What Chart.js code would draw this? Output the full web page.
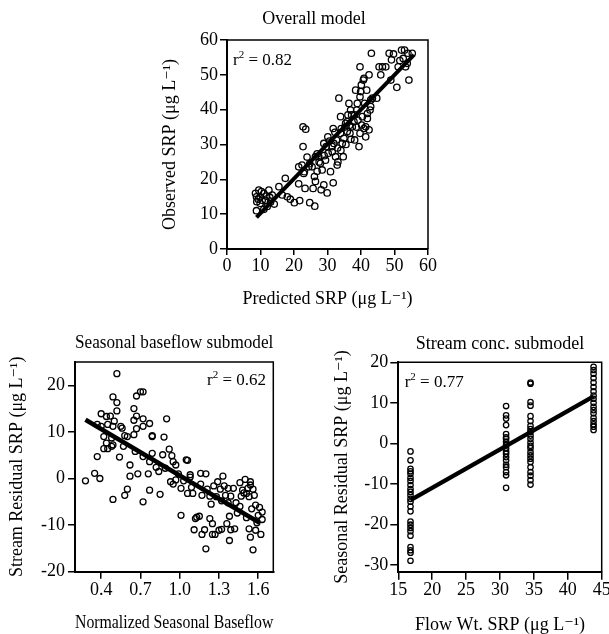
<!DOCTYPE html>
<html lang="en">
<head>
  <meta charset="UTF-8">
  <title>SRP model fits</title>
  <script src="https://cdn.jsdelivr.net/npm/chart.js"></script>
  <style>
    body { margin: 0; background: #fff; }
    #wrap { position: relative; width: 609px; height: 634px; overflow: hidden; }
    canvas { position: absolute; }
    #overall { left: 159px; top: 0px; }
    #baseflow { left: 0px; top: 320px; }
    #stream { left: 330px; top: 320px; }
  </style>
</head>
<body>
  <div id="wrap">
    <canvas id="overall" width="310" height="320"></canvas>
    <canvas id="baseflow" width="340" height="314"></canvas>
    <canvas id="stream" width="300" height="316"></canvas>
  </div>

  <script>
    // --- Overall model: predicted vs observed SRP ---
    const overallPredicted = [8.5, 9.5, 8.8, 9.9, 11.0, 10.5, 8.9, 9.9, 11.5, 12.5, 13.5, 12.0, 8.8, 11.0, 14.1,
      15.5, 17.4, 16.5, 18.0, 18.9, 20.1, 21.7, 21.4, 21.4, 22.4, 22.7, 22.7, 23.5, 23.1, 23.3,
      23.9, 24.7, 25.7, 26.1, 26.4, 24.7, 26.2, 26.9, 26.9, 27.9, 28.4, 28.1, 28.9, 29.4, 29.6,
      30.1, 29.9, 30.9, 31.4, 31.7, 31.7, 31.9, 32.4, 32.9, 33.1, 33.4, 33.9, 34.4, 34.7, 34.9,
      35.4, 35.9, 36.1, 36.4, 36.7, 36.9, 37.4, 37.9, 38.1, 38.4, 38.7, 39.1, 39.4, 39.7, 39.7,
      39.9, 40.1, 40.4, 40.7, 40.9, 41.1, 41.4, 41.4, 41.7, 41.9, 42.4, 42.7, 42.9, 43.1, 43.4,
      44.7, 45.4, 45.9, 46.4, 47.4, 48.4, 48.9, 49.1, 49.7, 50.7, 51.1, 51.6, 52.1, 52.6, 53.0,
      53.3, 54.0, 54.3, 55.3, 53.8, 35.9, 37.2, 38.1, 38.9, 39.7, 40.2, 40.9, 41.9, 42.4, 42.9,
      33.9, 34.1, 32.7, 31.4, 28.9, 27.4, 26.4, 25.4, 24.4, 22.9, 9.3, 10.3, 12.8, 11.8, 13.0,
      30.6, 32.2, 35.2, 36.6, 38.6, 37.0, 35.5, 34.0, 33.0, 30.2, 29.0, 27.5];
    const overallObserved = [16.0, 16.9, 15.0, 15.0, 16.0, 14.0, 13.6, 13.1, 14.0, 16.9, 15.5, 12.2, 11.0, 11.4, 12.9,
      17.9, 20.3, 15.5, 15.0, 14.3, 13.3, 13.9, 18.7, 23.6, 24.1, 29.4, 35.1, 34.4, 22.2, 17.4,
      26.4, 24.5, 17.4, 20.8, 19.4, 13.3, 12.3, 27.3, 22.3, 24.6, 22.7, 17.0, 18.4, 25.5, 29.4,
      32.2, 16.1, 22.2, 27.9, 19.0, 34.6, 30.3, 26.5, 24.1, 25.0, 43.3, 38.0, 30.3, 26.5, 31.8,
      36.1, 33.7, 38.5, 41.8, 33.2, 39.9, 35.1, 36.6, 31.3, 45.6, 39.9, 37.0, 29.4, 33.2, 52.3,
      45.2, 47.1, 38.0, 48.5, 49.0, 41.8, 32.2, 35.1, 45.6, 38.9, 50.0, 39.9, 42.8, 56.2, 43.3,
      43.3, 52.3, 50.0, 52.3, 52.3, 56.2, 48.5, 54.3, 56.0, 46.4, 52.3, 54.1, 57.1, 54.7, 57.1,
      52.3, 56.2, 48.5, 56.2, 53.3, 36.6, 38.5, 38.5, 41.8, 43.7, 35.6, 34.6, 37.5, 34.2, 40.9,
      33.2, 34.6, 31.3, 29.4, 30.3, 26.5, 26.5, 23.6, 23.6, 21.7, 14.3, 16.5, 14.8, 15.2, 13.5,
      31.0, 33.5, 35.0, 35.5, 35.0, 31.5, 30.0, 28.3, 29.0, 27.5, 26.8, 25.0];
    const overallFitX = [8.8, 55.8];
    const overallFitY = [9.1, 55.7];
    const overallTicks = [0, 10, 20, 30, 40, 50, 60];
    const overallR2 = "0.82";

    // --- Seasonal baseflow submodel ---
    const baseflowX = [0.28, 0.52, 0.49, 0.52, 0.52, 0.40, 0.44, 0.47, 0.37, 0.40, 0.45, 0.49, 0.50, 0.55, 0.56,
      0.42, 0.44, 0.48, 0.49, 0.42, 0.45, 0.48, 0.37, 0.35, 0.39, 0.49, 0.54, 0.57, 0.58, 0.60,
      0.58, 0.60, 0.62, 0.62, 0.65, 0.67, 0.70, 0.72, 0.67, 0.65, 0.67, 0.65, 0.72, 0.72, 0.66,
      0.68, 0.72, 0.72, 0.76, 0.77, 0.77, 0.77, 0.79, 0.79, 0.79, 0.82, 0.84, 0.85, 0.88, 0.87,
      0.90, 0.89, 0.92, 0.94, 0.93, 0.95, 0.95, 0.97, 0.97, 0.99, 1.01, 1.01, 1.03, 1.05, 1.06,
      1.06, 1.08, 1.08, 1.09, 1.10, 1.11, 1.12, 1.13, 1.15, 1.16, 1.16, 1.17, 1.17, 1.19, 1.20,
      1.20, 1.21, 1.23, 1.23, 1.24, 1.25, 1.25, 1.26, 1.27, 1.28, 1.29, 1.30, 1.31, 1.32, 1.32,
      1.33, 1.34, 1.35, 1.36, 1.37, 1.37, 1.38, 1.38, 1.39, 1.39, 1.41, 1.42, 1.43, 1.44, 1.46,
      1.46, 1.47, 1.48, 1.49, 1.50, 1.51, 1.51, 1.52, 1.53, 1.53, 1.54, 1.54, 1.54, 1.55, 1.56,
      1.56, 1.57, 1.58, 1.58, 1.59, 1.60, 1.61, 1.62, 1.63, 1.63];
    const baseflowResid = [-0.5, 22.5, 17.5, 16.3, 14.5, 13.9, 13.3, 13.4, 11.6, 11.2, 11.6, 11.2, 12.3, 11.2, 10.8,
      9.0, 7.6, 8.7, 7.2, 6.4, 6.4, 6.9, 4.7, 1.1, 0.0, -4.5, 4.6, 6.9, 9.2, 9.0,
      -3.6, -2.3, 2.9, 0.5, 15.0, 17.7, 18.6, 18.6, 13.4, 12.5, 10.7, 9.4, 12.8, 11.2, 5.8,
      1.0, 4.7, -5.0, 1.0, 3.6, -2.5, 11.8, 9.0, 9.2, 5.4, 2.4, 1.5, -3.4, 8.9, 5.1,
      12.8, 2.2, 6.3, 4.9, -0.7, 3.6, -1.2, 2.9, -0.3, 1.0, -2.1, -7.9, -0.5, 4.0, 3.9,
      -3.2, 0.8, 0.3, -1.9, -3.2, -11.0, -8.6, -8.3, -8.1, 1.1, -1.2, -3.6, -12.0, -11.0, -15.1,
      1.0, -2.3, -3.8, -8.6, -5.5, -12.0, -9.7, -1.6, -12.0, -3.9, -0.7, -11.1, -2.3, -4.8, -10.9,
      0.5, -1.6, -3.6, -9.7, -5.2, -2.1, -13.3, -8.1, -11.0, -3.8, -2.1, -10.8, -5.2, -7.4, -0.9,
      -6.0, -3.8, -2.5, -3.1, -0.2, -8.4, -3.2, -2.1, -3.9, -10.8, -0.7, -1.4, -12.6, -6.5, -2.3,
      -15.3, -3.6, -5.7, -11.1, -9.5, -7.9, -6.2, -12.0, -7.2, -8.8];
    const baseflowFitX = [0.28, 1.61];
    const baseflowFitY = [12.6, -9.5];
    const baseflowXTicks = [0.4, 0.7, 1.0, 1.3, 1.6];
    const baseflowYTicks = [-20, -10, 0, 10, 20];
    const baseflowR2 = "0.62";

    // --- Stream concentration submodel (four flow-weighted SRP levels) ---
    const streamFlowWt = [
      16.8, 16.8, 16.8, 16.8, 16.8, 16.8, 16.8, 16.8, 16.8, 16.8, 16.8, 16.8,
      16.8, 16.8, 16.8, 16.8, 16.8, 16.8, 16.8, 16.8, 16.8, 16.8, 16.8, 16.8,
      30.9, 30.9, 30.9, 30.9, 30.9, 30.9, 30.9, 30.9, 30.9, 30.9, 30.9, 30.9,
      30.9, 30.9, 30.9, 30.9, 30.9, 30.9, 30.9,
      34.5, 34.5, 34.5, 34.5, 34.5, 34.5, 34.5, 34.5, 34.5, 34.5, 34.5, 34.5,
      34.5, 34.5, 34.5, 34.5, 34.5, 34.5, 34.5, 34.5, 34.5, 34.5, 34.5,
      43.8, 43.8, 43.8, 43.8, 43.8, 43.8, 43.8, 43.8, 43.8, 43.8, 43.8, 43.8,
      43.8, 43.8, 43.8, 43.8, 43.8, 43.8];
    const streamResid = [
      -2.0, -4.2, -6.3, -6.9, -7.5, -8.5, -9.3, -10.3, -11.3, -12.0, -12.8, -13.7,
      -14.4, -15.6, -16.8, -19.3, -20.1, -20.9, -21.7, -22.8, -25.6, -26.4, -27.0, -29.0,
      9.2, 6.9, 6.1, 4.5, 2.3, 1.5, 1.1, 0.4, -0.4, -1.2, -2.0, -2.6,
      -3.4, -4.2, -5.3, -5.9, -7.1, -7.9, -11.0,
      15.0, 14.7, 10.2, 9.3, 6.7, 5.5, 4.3, 3.5, 2.8, 1.9, 1.1, 0.2,
      -0.6, -1.2, -2.2, -3.0, -3.8, -4.6, -5.9, -7.1, -8.0, -9.1, -10.2,
      18.9, 18.1, 17.2, 16.1, 15.0, 13.9, 12.8, 11.8, 11.0, 10.0, 9.0, 8.2,
      7.4, 6.3, 5.5, 4.7, 4.1, 3.3];
    const streamFitX = [16.8, 43.8];
    const streamFitY = [-14.0, 11.6];
    const streamXTicks = [15, 20, 25, 30, 35, 40, 45];
    const streamYTicks = [-30, -20, -10, 0, 10, 20];
    const streamR2 = "0.77";

    const FONT = "'Liberation Serif', 'DejaVu Serif', 'Times New Roman', serif";
    Chart.defaults.font.family = FONT;
    Chart.defaults.font.size = 18;
    Chart.defaults.color = "#000";

    const toPoints = (xs, ys) => xs.map((x, i) => ({ x: x, y: ys[i] }));
    const fixedTicks = arr => scale => { scale.ticks = arr.map(v => ({ value: v })); };

    // frame on top/right edges plus the r² note inside the plot
    const framePlugin = {
      id: "frame",
      afterDatasetsDraw(chart, args, opts) {
        const { ctx, chartArea: a } = chart;
        ctx.save();
        ctx.strokeStyle = "#000";
        ctx.lineWidth = 1.5;
        ctx.beginPath();
        ctx.moveTo(a.left, a.top);
        ctx.lineTo(a.right, a.top);
        ctx.lineTo(a.right, a.bottom);
        ctx.stroke();

        const rest = " = " + opts.r2;
        ctx.textBaseline = "alphabetic";
        ctx.textAlign = "left";
        ctx.font = "17px " + FONT;
        const wR = ctx.measureText("r").width;
        const wRest = ctx.measureText(rest).width;
        ctx.font = "11px " + FONT;
        const w2 = ctx.measureText("2").width;
        let x0 = opts.align === "right" ? a.right - opts.dx - (wR + w2 + wRest) : a.left + opts.dx;
        const y0 = a.top + opts.dy;
        ctx.fillStyle = "#000";
        ctx.font = "17px " + FONT;
        ctx.fillText("r", x0, y0);
        ctx.font = "11px " + FONT;
        ctx.fillText("2", x0 + wR, y0 - 7);
        ctx.font = "17px " + FONT;
        ctx.fillText(rest, x0 + wR + w2, y0);
        ctx.restore();
      }
    };

    function scatterChart(id, p) {
      const scales = {
        x: {
          type: "linear",
          min: p.xMin,
          max: p.xMax,
          afterBuildTicks: fixedTicks(p.xTicks),
          afterFit: s => { s.height = p.xHeight; },
          border: { display: true, color: "#000", width: 2 },
          grid: { drawOnChartArea: false, drawTicks: true, tickLength: p.xTick, color: "#000", lineWidth: 1.5 },
          ticks: { padding: p.xPad, autoSkip: false, maxRotation: 0, callback: p.xFmt },
          title: { display: true, text: p.xTitle, padding: { top: 0, bottom: p.xTitlePad } }
        },
        y: {
          type: "linear",
          min: p.yMin,
          max: p.yMax,
          afterBuildTicks: fixedTicks(p.yTicks),
          afterFit: s => { s.width = p.yWidth; },
          border: { display: true, color: "#000", width: 2 },
          grid: { drawOnChartArea: false, drawTicks: true, tickLength: p.yTick, color: "#000", lineWidth: 1.5 },
          ticks: { padding: p.yPad, autoSkip: false },
          title: { display: true, text: p.yTitle, padding: { top: p.yTitlePad, bottom: 0 } }
        }
      };
      // empty right-hand axis used as a spacer so the full-width title sits where it should
      if (p.rightSpace) {
        scales.spacer = {
          type: "linear",
          position: "right",
          afterFit: s => { s.width = p.rightSpace; },
          border: { display: false },
          grid: { display: false, drawTicks: false },
          ticks: { display: false }
        };
      }
      return new Chart(document.getElementById(id), {
        type: "scatter",
        data: {
          datasets: [
            {
              data: toPoints(p.fitX, p.fitY),
              showLine: true,
              borderColor: "#000",
              borderWidth: p.lineWidth,
              pointRadius: 0,
              order: 0
            },
            {
              data: toPoints(p.xs, p.ys),
              pointStyle: "circle",
              pointRadius: p.radius,
              borderWidth: 1.3,
              borderColor: "#000",
              backgroundColor: "rgba(255,255,255,0)",
              order: 1
            }
          ]
        },
        options: {
          responsive: false,
          devicePixelRatio: 1,
          animation: false,
          layout: { padding: { left: 0, right: p.padRight, top: 0, bottom: 0 } },
          plugins: {
            legend: { display: false },
            tooltip: { enabled: false },
            title: {
              display: true,
              text: p.title,
              fullSize: p.titleFull,
              color: "#000",
              font: { size: 18, weight: "normal" },
              padding: p.titlePad
            },
            frame: p.note
          },
          scales: scales
        },
        plugins: [framePlugin]
      });
    }

    scatterChart("overall", {
      xs: overallPredicted, ys: overallObserved, fitX: overallFitX, fitY: overallFitY,
      lineWidth: 4, radius: 3.2,
      title: "Overall model", titleFull: true, titlePad: { top: 8.2, bottom: 10.2 },
      padRight: 0, rightSpace: 41,
      xMin: 0, xMax: 60, xTicks: overallTicks, xHeight: 71, xTick: 6, xPad: 0,
      xFmt: v => v, xTitle: "Predicted SRP (\u03bcg L\u207b\u00b9)", xTitlePad: 10.2,
      yMin: 0, yMax: 60, yTicks: overallTicks, yWidth: 68, yTick: 7, yPad: 2,
      yTitle: "Observed SRP (\u03bcg L\u207b\u00b9)", yTitlePad: 0.2,
      note: { r2: overallR2, align: "left", dx: 6, dy: 25 }
    });

    scatterChart("baseflow", {
      xs: baseflowX, ys: baseflowResid, fitX: baseflowFitX, fitY: baseflowFitY,
      lineWidth: 4.5, radius: 3,
      title: "Seasonal baseflow submodel", titleFull: false, titlePad: { top: 12.2, bottom: 8.2 },
      padRight: 66.7,
      xMin: 0.2, xMax: 1.715, xTicks: baseflowXTicks, xHeight: 62.3, xTick: 7, xPad: 1,
      xFmt: v => Number(v).toFixed(1), xTitle: "Normalized Seasonal Baseflow", xTitlePad: 0.2,
      yMin: -20, yMax: 25, yTicks: baseflowYTicks, yWidth: 75, yTick: 7, yPad: 3,
      yTitle: "Stream Residual SRP (\u03bcg L\u207b\u00b9)", yTitlePad: 6.2,
      note: { r2: baseflowR2, align: "right", dx: 7.3, dy: 23.3 }
    });

    scatterChart("stream", {
      xs: streamFlowWt, ys: streamResid, fitX: streamFitX, fitY: streamFitY,
      lineWidth: 4.3, radius: 2.7,
      title: "Stream conc. submodel", titleFull: false, titlePad: { top: 13.2, bottom: 7.5 },
      padRight: 28.3,
      xMin: 15, xMax: 45, xTicks: streamXTicks, xHeight: 64.3, xTick: 8, xPad: 0,
      xFmt: v => v, xTitle: "Flow Wt. SRP (\u03bcg L\u207b\u00b9)", xTitlePad: 0,
      yMin: -31.7, yMax: 20, yTicks: streamYTicks, yWidth: 68.3, yTick: 8, yPad: 2,
      yTitle: "Seasonal Residual SRP (\u03bcg L\u207b\u00b9)", yTitlePad: 1.2,
      note: { r2: streamR2, align: "left", dx: 6.4, dy: 24.4 }
    });
  </script>
</body>
</html>
